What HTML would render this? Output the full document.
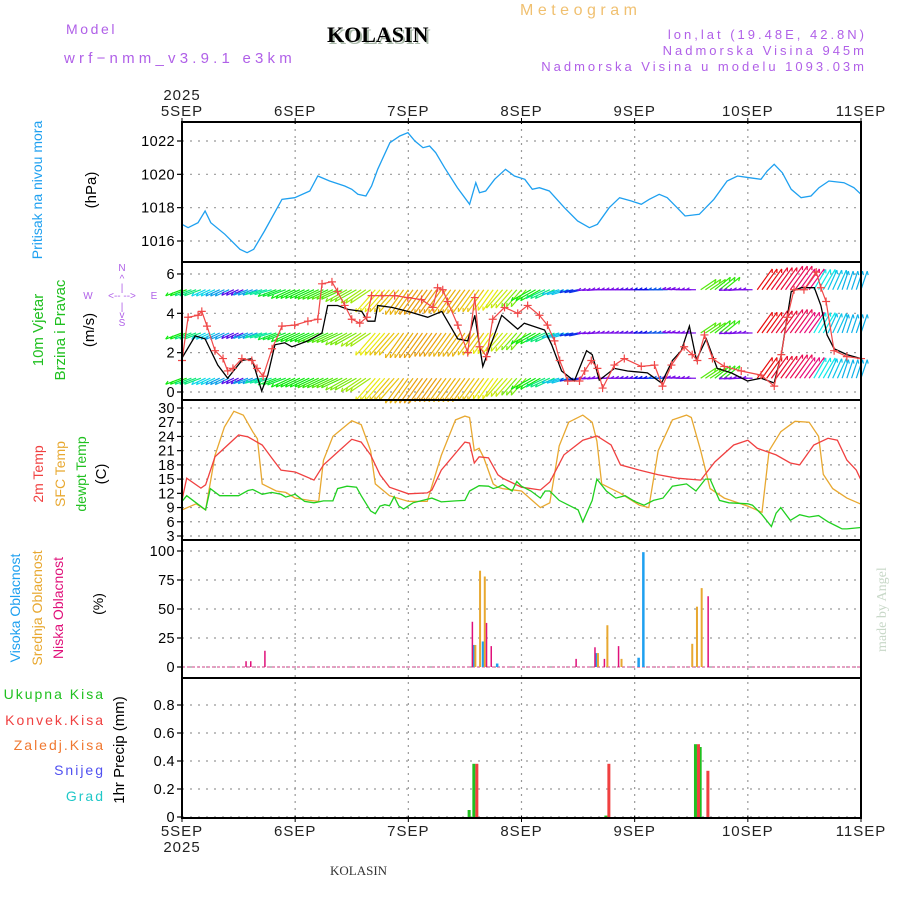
<!DOCTYPE html>
<html><head><meta charset="utf-8"><style>
html,body{margin:0;padding:0;background:#fff;}
svg{display:block;font-family:"Liberation Sans",sans-serif;}
</style></head><body>
<svg id="c" width="900" height="900" viewBox="0 0 900 900">
<text x="66" y="34" fill="#b060e8" font-size="14" letter-spacing="2.6">Model</text>
<text x="64" y="63" fill="#b060e8" font-size="15" letter-spacing="4.2">wrf−nmm_v3.9.1  e3km</text>
<text x="329" y="44" fill="#a8b8a8" font-size="22" font-weight="bold" font-family="Liberation Serif">KOLASIN</text>
<text x="327" y="42" fill="#000" font-size="22" font-weight="bold" font-family="Liberation Serif">KOLASIN</text>
<text x="520" y="15" fill="#f0c070" font-size="16" letter-spacing="4.5">Meteogram</text>
<text x="867" y="39" fill="#b060e8" font-size="13" letter-spacing="3" text-anchor="end">lon,lat (19.48E, 42.8N)</text>
<text x="867" y="55" fill="#b060e8" font-size="13" letter-spacing="3" text-anchor="end">Nadmorska Visina 945m</text>
<text x="867" y="71" fill="#b060e8" font-size="13" letter-spacing="3" text-anchor="end">Nadmorska Visina u modelu 1093.03m</text>
<text x="330" y="875" fill="#333" font-size="13" font-family="Liberation Serif">KOLASIN</text>
<text transform="translate(886,652) rotate(-90)" fill="#c8d8c8" font-size="14" font-family="Liberation Serif">made by Angel</text>
<g id="g"></g>
</svg>
<script>
// ---------- data ----------
const dayLabels=["5SEP","6SEP","7SEP","8SEP","9SEP","10SEP","11SEP"];
const presTicks=[1016,1018,1020,1022];
const windTicks=[0,2,4,6];
const tempTicks=[3,6,9,12,15,18,21,24,27,30];
const cloudTicks=[0,25,50,75,100];
const precTicks=[0,0.2,0.4,0.6,0.8];

const presH=[0,1.3,3.4,4.9,6.1,9.1,12.3,13.8,15.2,17.5,21.2,23.9,27.1,28.8,31.3,34.5,36,37.3,39,40.2,41.5,44.1,46.2,47.9,49.4,51.1,52.5,53.8,55.7,58.4,61,62.3,63.1,64.4,66.3,68.6,70.5,72.7,74.3,75.8,77.9,81.1,83.9,86.4,88.1,90.6,92.8,95.3,97.4,99.1,101.2,102.9,105,106.7,109.7,112.8,115.6,117.8,120.3,122.8,124.1,125.6,127.3,129.2,131.3,133.4,135.1,137.2,140.4,142.5,144];
const presV=[1017.0,1016.8,1017.1,1017.8,1017.1,1016.4,1015.5,1015.3,1015.5,1016.6,1018.5,1018.6,1019.0,1019.9,1019.6,1019.3,1019.1,1018.8,1018.7,1019.3,1020.3,1021.9,1022.3,1022.5,1022.0,1021.6,1021.7,1021.3,1020.4,1019.2,1018.2,1019.5,1018.9,1019.0,1019.7,1020.3,1019.9,1019.7,1019.1,1019.2,1019.0,1018.0,1017.2,1016.8,1017.0,1018.0,1018.6,1018.4,1018.2,1018.5,1018.8,1018.6,1018.0,1017.5,1017.6,1018.5,1019.6,1019.9,1019.8,1019.7,1020.2,1020.6,1020.1,1019.1,1018.6,1018.7,1019.2,1019.6,1019.5,1019.2,1018.8];

const windH=[0,2.8,4.9,7.6,9.7,12.7,14.8,16.9,18.2,19.7,21.8,23.3,26.7,29.7,30.9,33,35.2,38.1,39.4,40.9,41.5,44.5,47.9,52.1,55.1,58.5,60.6,62.1,63.8,67.8,71.2,72.6,76.9,78.4,80.5,83.2,85.8,87,88.5,91.7,94.5,98.7,101.7,104,105.9,107.6,109.1,111.2,113.5,116.5,119.9,122.8,125.6,127.1,129.2,131.3,134.1,135.5,136.8,138.3,141,144];
const windV=[1.73,2.85,2.7,1.37,0.7,1.6,1.7,0.05,0.86,2.4,2.5,2.3,2.6,3.0,4.4,4.4,4.2,4.1,3.6,3.6,4.4,4.3,4.1,3.8,4.1,2.7,2.6,3.9,1.3,3.9,3.2,3.5,3.15,2.4,1.07,0.56,2.1,1.9,0.6,1.2,1.07,0.97,0.46,1.6,2.1,3.35,1.63,2.7,1.2,0.97,0.56,0.7,0.46,1.9,5.1,5.3,5.3,4.4,2.9,2.2,1.9,1.7];
const gustH=[0,1.3,3.4,4.2,5.3,7,8.7,9.7,10.8,12.7,14.8,15.9,17.2,19.1,21.2,23.9,26.7,28.8,29.7,31.8,33,34.5,36,37.7,39.2,40.2,42.4,45.1,47.9,50.8,53.2,54.2,55.3,56.3,58.5,60.6,62.1,63.1,64.6,65.9,68.4,71.2,73.3,75.8,77.5,79,80.1,81.8,84.3,85.4,86.8,88.1,89.2,91.7,93.8,97.4,100.2,101.9,103.8,106.5,108.2,109.3,110.8,112.5,115,118.6,122.8,125.6,127.1,128.4,129.8,131.9,134.5,135.5,136.6,138.3,141,144];
const gustV=[1.6,3.8,3.9,4.1,3.35,2.1,1.7,1.07,1.2,1.7,1.6,1.2,0.8,2.2,3.35,3.4,3.6,3.7,5.5,5.6,5.1,4.4,3.7,3.5,3.8,4.9,4.9,4.9,4.8,4.7,4.3,5.3,5.2,4.6,3.4,2.0,4.8,2.3,1.8,3.7,4.3,4.0,4.4,3.9,3.4,2.6,1.6,0.56,0.56,1.07,1.6,1.2,0.2,1.37,1.7,1.3,1.37,0.3,1.37,2.3,1.9,1.6,2.9,1.7,1.3,1.07,0.86,0.3,1.9,3.8,5.2,5.2,6.1,5.3,4.6,2.1,1.8,1.7];

// wind direction arrows (3-hourly): screen angle (deg), hue, length
const arrowDir=[155,155,150,150,150,155,160,155,150,150,150,150,145,140,125,125,120,120,120,120,120,120,120,125,125,145,150,160,165,175,180,180,180,180,180,185,180,-40,-45,175,180,-60,-60,-60,-60,-65,-70,-75,-75];
const arrowHue=[120,150,185,200,260,200,160,130,120,120,110,100,90,80,60,50,45,40,40,45,45,50,60,70,90,120,150,190,230,270,270,270,260,240,220,270,270,100,110,270,270,0,350,340,330,180,190,195,195];
const arrowLen=[18,18,16,16,14,16,18,20,22,22,24,24,26,26,34,34,36,36,34,34,34,32,30,28,26,24,22,18,14,10,10,10,10,10,10,10,10,20,22,10,10,30,32,34,30,28,26,24,24];
const arrowRows=[5.2,3.0,0.7];

const t2H=[0,1,4,5,7,12,14,17,19,21,24,28,30,33,36,38,40,42,44,48,52,53,55,60,61,62,63,65,67,68,72,76,78,81,85,88,91,93,97,101,105,110,113,117,120,122,126,129,131,134,137,139,141,143,144];
const t2V=[10.6,15.2,13.1,13.8,19.7,24.3,23.9,22.2,19.5,16.9,16.5,14.8,18,20.7,23.4,22.8,20.1,15.9,13.3,11.9,12.1,12.7,16.9,22.8,22.6,18.4,19.7,19.5,15.9,15.2,13.3,12.7,14.4,20.1,23.2,24.1,22.2,18,16.9,15.9,15.2,14.8,18.6,22.2,23.2,21.5,20.1,18.4,18,22.2,23.6,23.2,19,16.9,14.8];
const sfcH=[0,3,5,7,9,11,13,15,16,17,20,22,24,27,29,30,32,36,38,40,41,44,48,52,55,58,60,61,62,63,64,66,67,68,72,76,78,80,82,85,87,88,89,93,97,99,101,104,107,108,110,112,115,120,123,124.5,127,130,133,135,136,138,141,144];
const sfcV=[8.5,9.8,8.5,20,26,29.3,28.5,25,23.5,14,12.5,12.2,11,10.5,10.3,19,24,27.3,26.5,21,14,11.5,10.3,10.3,20,27.5,28.3,28,21,21.5,19.5,14,13.3,13,12.5,9,10,22,27,28.5,27,23,14,12,9.5,9,21,27.5,28.5,28,21,13,11,9.3,8,21,25,27.2,27,24,16,13,11,9.7];
const dewH=[0,1,3,5,6,8,10,12,14,15,17,19,21,22,24,26,28,30,32,33,35,37,38,40,41,42,43,44,45,46,47,49,53,55,58,60,61,63,65,66,67,68,70,71,72,74,76,77,78,80,82,84,85,87,88,90,92,94,96,98,100,102,104,107,109,111,112,114,116,120,121,123,125,126,127,129,131,133,135,137,139,140,141,144];
const dewV=[10.3,11.5,10,8.5,13,11.5,11.5,11.5,12.6,12.8,11.8,12.2,11.8,11.2,11.8,10.3,10,10.4,10.4,13,13.5,13.3,11.5,8.3,7.7,9.3,9.6,9.4,11.3,9.3,8.7,10,11,10.2,10.4,10.5,12.5,13.6,13.5,13,13.3,13.8,12.5,14.5,13.5,12.5,11,12.5,12.5,10.5,9.5,8.5,6,10.5,15,12.5,11,11.5,10.3,9.5,10.5,11,13.5,14,12.5,15,15,10.5,10,9.8,9.5,7.5,5,7.8,9,6.3,7.5,7,7.3,6,5,4.5,4.5,4.8];

const cloudH=[13,14,17,61,62,63,64,65,67,83,87,88,89,90,92,93,97,98,108,109,110,111];
const highV=[0,0,0,0,19,0,22,0,3,0,0,12,0,0,0,0,8,99,0,0,0,0];
const midV=[0,0,0,0,19,83,78,0,0,0,0,12,0,36,0,7,0,0,20,52,68,0];
const lowV=[5,5,14,39,0,0,38,18,0,7,17,0,7,0,18,0,0,0,0,0,0,61];

const precH=[61,62,90,109,110,111];
const totalP=[0.05,0.38,0.01,0.52,0.50,0.0];
const convP=[0,0.38,0.38,0.52,0,0.33];

// ---------- axes ----------
const X0=182,X1=861;
const X=h=>X0+h*(X1-X0)/144;
const yP=v=>141+(1022-v)*100/6;
const yW=v=>392-v*19.67;
const yT=v=>408+(30-v)*128/27;
const yC=v=>667-v*1.16;
const yR=v=>817-v*140;
const panels=[[122,262],[262,400],[400,540],[540,678],[678,818]];

const NS="http://www.w3.org/2000/svg";
const G=document.getElementById('g');
function mk(tag,attrs,parent){const e=document.createElementNS(NS,tag);for(const k in attrs)e.setAttribute(k,attrs[k]);(parent||G).appendChild(e);return e;}

// grid
for(let d=1;d<6;d++){const l=mk('line',{x1:X(d*24),x2:X(d*24),y1:122,y2:818,stroke:'#999','stroke-dasharray':'2,5','stroke-width':1.2});

}
function hgrid(ticks,f,name){ticks.forEach(t=>{const y=f(t);
const l=mk('line',{x1:X0,x2:X1,y1:y,y2:y,stroke:'#999','stroke-dasharray':'2,6','stroke-width':1.2});


const k=mk('line',{x1:X0-5,x2:X0,y1:y,y2:y,stroke:'#000','stroke-width':1.2});


const tx=mk('text',{x:X0-7,y:y+5,'text-anchor':'end','font-size':14.5,fill:'#000','letter-spacing':0.4});
tx.textContent=String(t);

});}
hgrid(presTicks,yP,'pressure');hgrid(windTicks,yW,'wind');hgrid(tempTicks,yT,'temp');hgrid(cloudTicks,yC,'cloud');hgrid(precTicks,yR,'precip');

// day labels top & bottom
dayLabels.forEach((s,i)=>{const x=X(i*24);
const a=mk('text',{x:x,y:116,'text-anchor':'middle','font-size':15,fill:'#222','letter-spacing':1});a.textContent=s;


const b=mk('text',{x:x,y:836,'text-anchor':'middle','font-size':15,fill:'#222','letter-spacing':1});b.textContent=s;


const t1=mk('line',{x1:x,x2:x,y1:118,y2:124,stroke:'#000'});


const t2=mk('line',{x1:x,x2:x,y1:816,y2:822,stroke:'#000'});

});
const y1=mk('text',{x:X0,y:100,'text-anchor':'middle','font-size':15,fill:'#222','letter-spacing':1});y1.textContent='2025';


const y2=mk('text',{x:X0,y:852,'text-anchor':'middle','font-size':15,fill:'#222','letter-spacing':1});y2.textContent='2025';



function line(hs,vs,f,color,name,w){const d=hs.map((h,i)=>(i?'L':'M')+X(h).toFixed(1)+','+f(vs[i]).toFixed(1)).join('');
const p=mk('path',{d:d,fill:'none',stroke:color,'stroke-width':w||1.3});

return p;}

// pressure
line(presH,presV,yP,'#1ea0f0','pressure-line');

// wind arrows
const ag=mk('g',{'stroke-width':1.2});


for(let r=0;r<arrowRows.length;r++){for(let h=0;h<=144;h+=1){const i=Math.round(h/3);
const a=arrowDir[i]*Math.PI/180,L=arrowLen[i];const x=X(h),y=yW(arrowRows[r]);
const x2=x+Math.cos(a)*L,y2=y+Math.sin(a)*L*0.8;
const c='hsl('+arrowHue[i]+',90%,48%)';
const l=mk('line',{x1:x,y1:y,x2:x2,y2:y2,stroke:c},ag);


const hx=mk('line',{x1:x2,y1:y2,x2:x2-Math.cos(a-0.5)*4,y2:y2-Math.sin(a-0.5)*4,stroke:c},ag);

}}
// wind speed & gust
line(windH,windV,yW,'#000','wind-speed-line',1.3);
line(gustH,gustV,yW,'#f04848','wind-gust-line',1.2);
gustH.forEach((h,i)=>{const x=X(h),y=yW(gustV[i]);
const p=mk('path',{d:`M${x-4},${y}H${x+4}M${x},${y-4}V${y+4}`,stroke:'#f04848','stroke-width':1.2});

});

// temps
line(sfcH,sfcV,yT,'#e8a830','sfc-temp-line');
line(t2H,t2V,yT,'#f04040','2m-temp-line');
line(dewH,dewV,yT,'#20d020','dewpoint-line');

// clouds
const bl=mk('line',{x1:X0,x2:X1,y1:yC(0),y2:yC(0),stroke:'#e080b0','stroke-dasharray':'3,2','stroke-width':1.5});


function bars(hs,vs,f,color,off,w,name){hs.forEach((h,i)=>{if(vs[i]<=0)return;const y=f(vs[i]);
const r=mk('rect',{x:X(h)+off,y:y,width:w,height:f(0)-y,fill:color});

});}
bars(cloudH,highV,yC,'#1ea0f0',-2,2.5,'high-cloud-bar');
bars(cloudH,midV,yC,'#e8a830',0,2,'mid-cloud-bar');
bars(cloudH,lowV,yC,'#e0107a',2,1.5,'low-cloud-bar');

// precip
bars(precH,totalP,yR,'#20c020',-2,3,'total-precip-bar');
bars(precH,convP,yR,'#f04040',1,3,'convective-precip-bar');

// panel borders
panels.forEach(p=>{const r=mk('rect',{x:X0,y:p[0],width:X1-X0,height:p[1]-p[0],fill:'none',stroke:'#000','stroke-width':2});

});

// left labels (rotated)
function vt(x,y,s,color,size,name){const t=mk('text',{transform:`translate(${x},${y}) rotate(-90)`,'text-anchor':'middle','font-size':size||14,fill:color});t.textContent=s;

}
vt(42,190,'Pritisak na nivou mora','#1ea0f0',14,'pressure-title');
vt(96,190,'(hPa)','#000',15,'pressure-unit');
vt(43,330,'10m Vjetar','#20c020',15,'wind-title');
vt(65,330,'Brzina i Pravac','#20c020',15,'wind-subtitle');
vt(94,330,'(m/s)','#000',15,'wind-unit');
vt(43,474,'2m Temp','#f04040',14,'temp-title-2m');
vt(65,474,'SFC Temp','#e8a830',14,'temp-title-sfc');
vt(86,474,'dewpt Temp','#20c020',14,'temp-title-dew');
vt(106,474,'(C)','#000',15,'temp-unit');
vt(20,608,'Visoka Oblacnost','#1ea0f0',14,'high-cloud-title');
vt(42,608,'Srednja Oblacnost','#e8a830',14,'mid-cloud-title');
vt(63,608,'Niska Oblacnost','#e0107a',14,'low-cloud-title');
vt(103,604,'(%)','#000',14,'cloud-unit');
vt(124,750,'1hr Precip (mm)','#000',15,'precip-unit');
[['Ukupna  Kisa','#20c020',699],['Konvek.Kisa','#f04040',725],['Zaledj.Kisa','#f07830',750],['Snijeg','#5050f0',775],['Grad','#20c8c8',801]].forEach(a=>{
const t=mk('text',{x:105,y:a[2],'text-anchor':'end','font-size':14,fill:a[1],'letter-spacing':2});t.textContent=a[0];

});
// compass
[['N',122,271],['^',122,282],['|',122,291],['W',88,299],['<-- -->',122,299],['E',154,299],['|',122,310],['v',122,318],['S',122,326]].forEach(a=>{
const t=mk('text',{x:a[1],y:a[2],'text-anchor':'middle','font-size':10,fill:'#b060e8'});t.textContent=a[0];

});
</script>
</body></html>
